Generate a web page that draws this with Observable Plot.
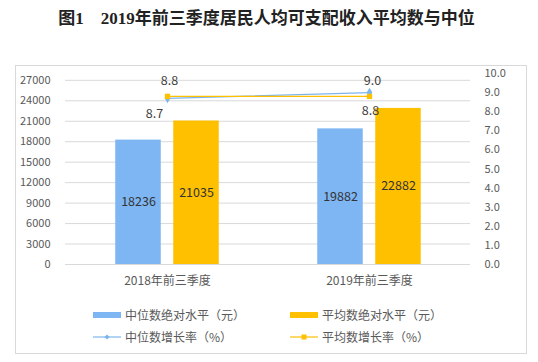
<!DOCTYPE html>
<html>
<head>
<meta charset="utf-8">
<script src="https://cdn.jsdelivr.net/npm/d3@7"></script>
<script src="https://cdn.jsdelivr.net/npm/@observablehq/plot@0.6"></script>
<style>
  html, body { margin: 0; padding: 0; background: #fff; }
  #wrap { position: relative; width: 538px; height: 362px; overflow: hidden; font-family: "Noto Sans CJK SC", "Noto Sans", sans-serif; }
  #title { position: absolute; left: 0; top: 8px; width: 533px; text-align: center; font-size: 17px; font-weight: bold; color: #222; font-family: "Liberation Serif", "Noto Sans CJK SC", serif; line-height: 22px; white-space: nowrap; }
  #frame { position: absolute; left: 15px; top: 65px; width: 512px; height: 289px; border: 1px solid #d9d9d9; box-sizing: border-box; }
  #chart { position: absolute; left: 0; top: 0; }
  .leg { position: absolute; font-size: 12px; color: #595959; line-height: 16px; white-space: nowrap; display: flex; align-items: center; }
  .leg svg { margin-right: 4px; }
</style>
</head>
<body>
<div id="wrap">
  <div id="title">图1<span style="display:inline-block;width:17px"></span>2019年前三季度居民人均可支配收入平均数与中位</div>
  <div id="frame"></div>
  <div id="chart"></div>
  <div id="legend"></div>
</div>
<script>
// ---- data ----
const categories = ["2018年前三季度", "2019年前三季度"];
const medianIncome = [18236, 19882];
const meanIncome = [21035, 22882];
const medianGrowth = [8.7, 9.0];
const meanGrowth = [8.8, 8.8];
const leftTicks = [0, 3000, 6000, 9000, 12000, 15000, 18000, 21000, 24000, 27000];
const rightTicks = [0, 1, 2, 3, 4, 5, 6, 7, 8, 9, 10];
const seriesNames = ["中位数绝对水平（元）", "平均数绝对水平（元）", "中位数增长率（%）", "平均数增长率（%）"];

// ---- build ----
const leftMax = 28000, rightMax = 10;
const k = leftMax / rightMax;
const rows = categories.map((c, i) => ({cat: c, median: medianIncome[i], mean: meanIncome[i], mg: medianGrowth[i], ag: meanGrowth[i]}));
const blue = "#7EB6F3", orange = "#FFC000", blueLine = "#7CB5EC";
const off = 29, inset = 78.25;

const chart = Plot.plot({
  width: 538, height: 296,
  marginLeft: 65, marginRight: 68, marginTop: 73, marginBottom: 32,
  x: {domain: categories, padding: 0, axis: null, label: null},
  y: {domain: [0, leftMax], axis: null, label: null},
  style: {fontFamily: '"Noto Sans CJK SC", "Noto Sans", sans-serif', color: "#595959", background: "transparent", overflow: "visible"},
  marks: [
    Plot.ruleY(leftTicks, {stroke: "#d9d9d9", strokeWidth: 1}),
    Plot.axisY({ticks: leftTicks, anchor: "left", tickSize: 0, tickPadding: 15, fontSize: 11, label: null, tickFormat: d => String(d)}),
    Plot.axisY({ticks: rightTicks.map(v => v * k), anchor: "right", tickSize: 0, tickPadding: 14, textAnchor: "start", fontSize: 11, label: null, tickFormat: d => (d / k).toFixed(1)}),
    Plot.axisX({anchor: "bottom", tickSize: 0, tickPadding: 12, fontSize: 12, label: null}),
    Plot.barY(rows, {x: "cat", y: "median", fill: blue, insetLeft: inset, insetRight: inset, dx: -off}),
    Plot.barY(rows, {x: "cat", y: "mean", fill: orange, insetLeft: inset, insetRight: inset, dx: off}),
    Plot.text(rows, {x: "cat", y: d => d.median / 2, text: d => String(d.median), dx: -off, fill: "#333", fontSize: 12.5}),
    Plot.text(rows, {x: "cat", y: d => d.mean / 2, text: d => String(d.mean), dx: off, fill: "#333", fontSize: 12.5}),
    Plot.line(rows, {x: "cat", y: d => d.mg * k, stroke: blueLine, strokeWidth: 1.3}),
    Plot.dot(rows, {x: "cat", y: d => d.mg * k, symbol: "diamond", fill: blueLine, r: 3}),
    Plot.line(rows, {x: "cat", y: d => d.ag * k, stroke: orange, strokeWidth: 1.3}),
    Plot.dot(rows, {x: "cat", y: d => d.ag * k, symbol: "square", fill: orange, r: 3}),
    // growth labels
    Plot.text(rows.filter((d, i) => i === 0), {x: "cat", y: d => d.mg * k, text: d => d.mg.toFixed(1), dx: -13, dy: 16, fill: "#404040", fontSize: 12.5}),
    Plot.text(rows.filter((d, i) => i === 0), {x: "cat", y: d => d.ag * k, text: d => d.ag.toFixed(1), dx: 2, dy: -15, fill: "#404040", fontSize: 12.5}),
    Plot.text(rows.filter((d, i) => i === 1), {x: "cat", y: d => d.mg * k, text: d => d.mg.toFixed(1), dx: 3, dy: -12, fill: "#404040", fontSize: 12.5}),
    Plot.text(rows.filter((d, i) => i === 1), {x: "cat", y: d => d.ag * k, text: d => d.ag.toFixed(1), dx: 1, dy: 15, fill: "#404040", fontSize: 12.5})
  ]
});
document.getElementById("chart").appendChild(chart);

// ---- legend ----
const legend = document.getElementById("legend");
const legItems = [
  {name: seriesNames[0], type: "bar", color: blue, left: 93, top: 307},
  {name: seriesNames[1], type: "bar", color: orange, left: 290, top: 307},
  {name: seriesNames[2], type: "diamond", color: blueLine, left: 93, top: 329},
  {name: seriesNames[3], type: "square", color: orange, left: 290, top: 329}
];
for (const it of legItems) {
  const div = document.createElement("div");
  div.className = "leg";
  div.style.left = it.left + "px";
  div.style.top = it.top + "px";
  let sw;
  if (it.type === "bar") {
    sw = `<svg width="28" height="8"><rect x="0" y="1" width="28" height="6" fill="${it.color}"/></svg>`;
  } else if (it.type === "diamond") {
    sw = `<svg width="28" height="8"><line x1="0" x2="28" y1="4" y2="4" stroke="${it.color}" stroke-width="1.2"/><path d="M14,1.5L16.5,4L14,6.5L11.5,4Z" fill="${it.color}"/></svg>`;
  } else {
    sw = `<svg width="28" height="8"><line x1="0" x2="28" y1="4" y2="4" stroke="${it.color}" stroke-width="1.2"/><rect x="11.5" y="1.5" width="5" height="5" fill="${it.color}"/></svg>`;
  }
  div.innerHTML = sw + `<span>${it.name}</span>`;
  legend.appendChild(div);
}
</script>
</body>
</html>
